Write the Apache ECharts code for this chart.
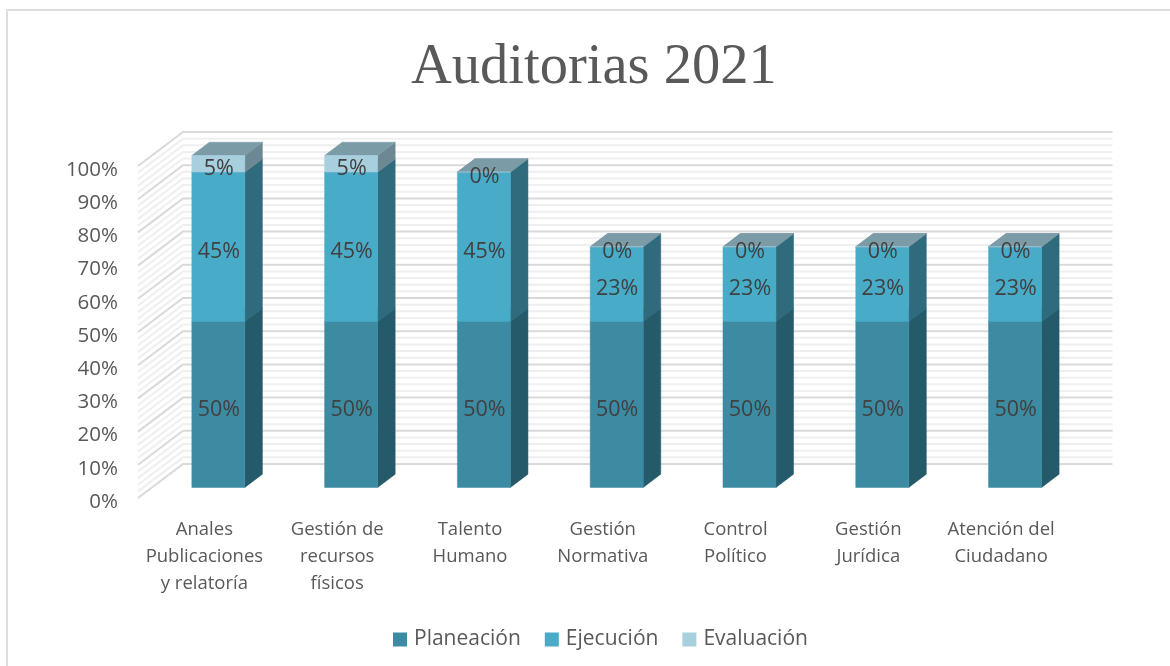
<!DOCTYPE html>
<html>
<head>
<meta charset="utf-8">
<style>html,body{margin:0;padding:0;background:#fff}#c{width:1170px;height:666px}</style>
<script src="https://cdn.jsdelivr.net/npm/echarts@6/dist/echarts.min.js"></script>
</head>
<body>
<div id="c"></div>
<script>
const categories = ['Anales\nPublicaciones\ny relatoría','Gestión de\nrecursos\nfísicos','Talento\nHumano','Gestión\nNormativa','Control\nPolítico','Gestión\nJurídica','Atención del\nCiudadano'];
const planeacion = [50,50,50,50,50,50,50];
const ejecucion  = [45,45,45,22.5,22.5,22.5,22.5];
const evaluacion = [5,5,0,0,0,0,0];
const gridMajor = [0,10,20,30,40,50,60,70,80,90,100];
const gridMinor = [2,4,6,8,12,14,16,18,22,24,26,28,32,34,36,38,42,44,46,48,52,54,56,58,62,64,66,68,72,74,76,78,82,84,86,88,92,94,96,98];

const WALL_DX = 45, WALL_DY = -34, NEAR = 0.31, FAR = 0.70, BAR_W = 53;
const FONT = '"Open Sans", "Noto Sans", sans-serif';
const TEXT = '#404040';

function gridSeries(values, color, width) {
  return {
    type: 'custom', silent: true, z: 1, clip: false,
    data: values.map(v => [0, v]),
    encode: { x: 0, y: 1 },
    renderItem(params, api) {
      const cs = params.coordSys;
      const y = api.coord([0, api.value(1)])[1];
      return {
        type: 'polyline',
        shape: { points: [[cs.x, y], [cs.x + WALL_DX, y + WALL_DY], [cs.x + cs.width + WALL_DX, y + WALL_DY]] },
        style: { stroke: color, lineWidth: width, fill: null }
      };
    }
  };
}

function barSeries(name, values, bases, colors, z) {
  return {
    name, type: 'custom', z, clip: false, silent: true,
    itemStyle: { color: colors.front },
    data: values.map((v, i) => [i, v, bases[i]]),
    encode: { x: 0, y: 1 },
    renderItem(params, api) {
      const i = api.value(0), v = api.value(1), b = api.value(2);
      const cx = api.coord([i, 0])[0];
      const y0 = api.coord([i, b])[1], y1 = api.coord([i, b + v])[1];
      const nx = WALL_DX * NEAR, ny = WALL_DY * NEAR;
      const ddx = WALL_DX * (FAR - NEAR), ddy = WALL_DY * (FAR - NEAR);
      const l = cx + nx - BAR_W / 2, r = l + BAR_W;
      const bot = y0 + ny, top = y1 + ny;
      const poly = (pts, fill) => ({ type: 'polygon', shape: { points: pts }, style: { fill, stroke: fill, lineWidth: 0.5 } });
      const kids = [
        poly([[r, bot], [r + ddx, bot + ddy], [r + ddx, top + ddy], [r, top]], colors.side),
        poly([[l, top], [r, top], [r + ddx, top + ddy], [l + ddx, top + ddy]], colors.top),
        poly([[l, bot], [r, bot], [r, top], [l, top]], colors.front),
        { type: 'text', z2: 50, style: {
            text: Math.round(v) + '%', x: (l + r) / 2 + 0.5, y: (bot + top) / 2 + 5,
            align: 'center', verticalAlign: 'middle', fill: TEXT, font: '21.5px ' + FONT } }
      ];
      return { type: 'group', children: kids };
    }
  };
}

const base2 = planeacion.map((p, i) => p + ejecucion[i]);
const chart = echarts.init(document.getElementById('c'), null, { renderer: 'canvas' });
chart.setOption({
  animation: false,
  backgroundColor: '#fff',
  title: {
    text: 'Auditorias 2021', left: 406, top: 35,
    textStyle: { fontFamily: '"Liberation Serif", "DejaVu Serif", serif', fontSize: 56.5, fontWeight: 'normal', color: '#595959' }
  },
  legend: {
    data: ['Planeación', 'Ejecución', 'Evaluación'],
    top: 624, left: 388, icon: 'rect', itemWidth: 14, itemHeight: 14, itemGap: 24,
    textStyle: { fontFamily: FONT, fontSize: 21, color: '#595959', padding: [0, 0, 0, 2] },
    selectedMode: false
  },
  graphic: [{ type: 'polyline', shape: { points: [[7, 670], [7, 10], [1170, 10]] }, style: { fill: 'none', stroke: '#DDDDDD', lineWidth: 2 }, silent: true }],
  grid: { left: 138, top: 166, width: 929.5, height: 332 },
  xAxis: {
    type: 'category', data: categories,
    axisTick: { show: false }, axisLine: { show: false },
    axisLabel: { interval: 0, margin: 18, lineHeight: 27, fontFamily: FONT, fontSize: 18.5, color: '#595959' }
  },
  yAxis: {
    type: 'value', min: 0, max: 100, interval: 10,
    axisLine: { show: false }, axisTick: { show: false }, splitLine: { show: false },
    axisLabel: { formatter: '{value}%', margin: 20, fontFamily: FONT, fontSize: 20.5, color: '#595959', verticalAlign: 'top', lineHeight: 8 }
  },
  series: [
    gridSeries(gridMinor, '#EFEFEF', 2),
    gridSeries(gridMajor, '#D9D9D9', 2),
    barSeries('Planeación', planeacion, planeacion.map(() => 0), { front: '#3D8AA3', side: '#245A69', top: '#2F6B7D' }, 5),
    barSeries('Ejecución', ejecucion, planeacion, { front: '#48ABC8', side: '#2F6B7D', top: '#7B9BA6' }, 6),
    barSeries('Evaluación', evaluacion, base2, { front: '#A8CFDE', side: '#6C8893', top: '#7B9BA6' }, 7)
  ]
});
</script>
</body>
</html>
